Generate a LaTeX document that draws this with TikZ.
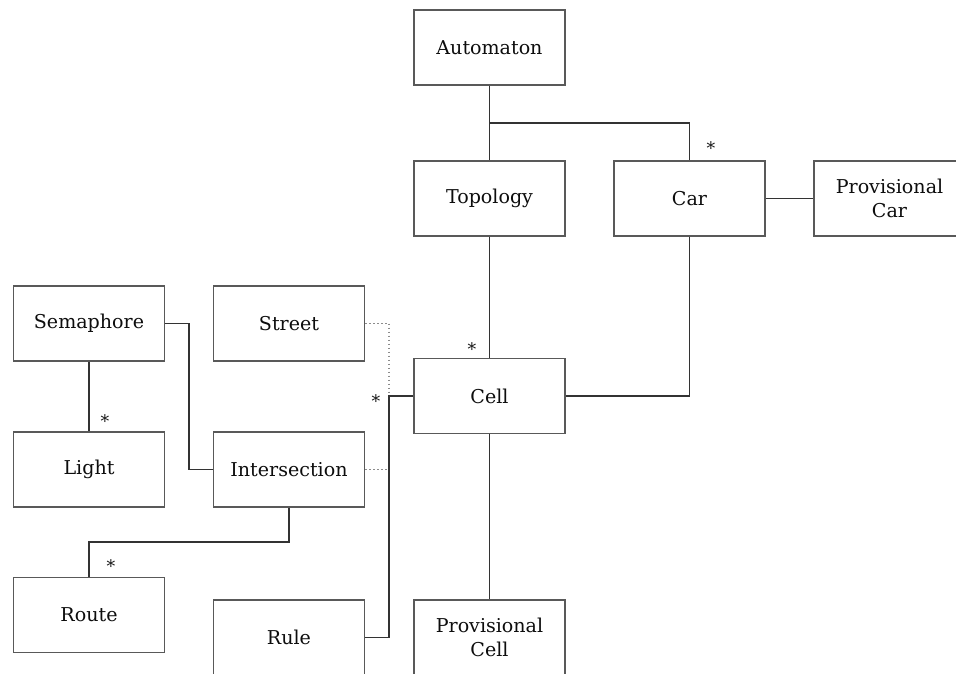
\documentclass[tikz,border=0pt]{standalone}
\usepackage{fontspec}
\setmainfont{DejaVu Serif}
\begin{document}
\begin{tikzpicture}[x=0.75pt,y=-0.75pt,
  cls/.style={draw=black!65, line width=1pt, fill=white,
    minimum width=113.25pt, minimum height=56.25pt, inner sep=0pt,
    align=center, text=black!95, font=\fontsize{14.3}{17.5}\selectfont},
  link/.style={draw=black!80, line width=1pt},
  dep/.style={draw=black!45, line width=1pt, dotted},
  mult/.style={inner sep=0pt, text=black!90, font=\fontsize{13}{15}\selectfont}]
\useasboundingbox (0,0) rectangle (956,674);
\clip (0,0) rectangle (956,674);

% classes
\node[cls] (auto)   at (489.5,47.5)  {Automaton};
\node[cls] (topo)   at (489.5,198.5) {Topology};
\node[cls] (car)    at (689.5,198.5) {Car};
\node[cls] (pcar)   at (889.5,198.5) {Provisional\\Car};
\node[cls] (sema)   at (89,323.5)    {Semaphore};
\node[cls] (street) at (289,323.5)   {Street};
\node[cls] (cell)   at (489.5,396)   {Cell};
\node[cls] (light)  at (89,469.5)    {Light};
\node[cls] (inter)  at (289,469.5)   {Intersection};
\node[cls] (route)  at (89,615)      {Route};
\node[cls] (rule)   at (289,637.5)   {Rule};
\node[cls] (pcell)  at (489.5,637.5) {Provisional\\Cell};

% bend points
\coordinate (ja) at (489.5,123);
\coordinate (jb) at (389,396);
\coordinate (js) at (189,323.5);
\coordinate (jr) at (289,542);

% associations
\draw[link] (auto.south) -- (topo.north);
\draw[link] (ja) -| (car.north);
\draw[link] (car.east) -- (pcar.west);
\draw[link] (topo.south) -- (cell.north);
\draw[link] (car.south) |- (cell.east);
\draw[dep] (street.east) -| (jb);
\draw[dep] (inter.east) -- (inter.east -| jb);
\draw[link] (cell.west) -- (jb) |- (rule.east);
\draw[link] (sema.east) -- (js) |- (inter.west);
\draw[link] (sema.south) -- (light.north);
\draw[link] (inter.south) -- (jr) -| (route.north);
\draw[link] (cell.south) -- (pcell.north);

% multiplicities
\node[mult] (m1) at (711,148) {*};
\node[mult] (m2) at (472,349) {*};
\node[mult] (m3) at (376,401) {*};
\node[mult] (m4) at (105,421) {*};
\node[mult] (m5) at (111,566) {*};
\end{tikzpicture}
\end{document}
